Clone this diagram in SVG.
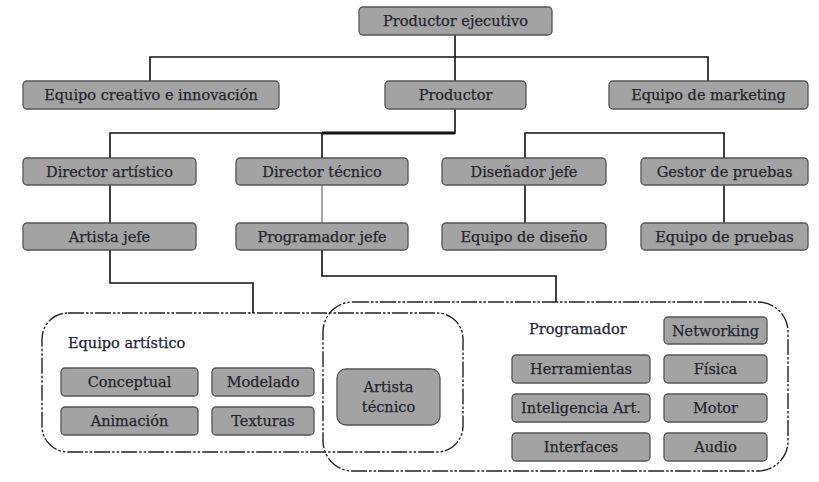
<svg xmlns="http://www.w3.org/2000/svg" width="819" height="482" viewBox="0 0 819 482">
<style>
.b{fill:#a3a3a3;stroke:#555;stroke-width:1.3}
.t{font-family:"DejaVu Serif","Liberation Serif",serif;font-size:14.5px;fill:#25252f;stroke:#25252f;stroke-width:0.25;text-anchor:middle}
.l{font-family:"DejaVu Serif","Liberation Serif",serif;font-size:14.5px;fill:#1f2235;stroke:#1f2235;stroke-width:0.25}
.c{fill:none;stroke:#111;stroke-width:1.6}
.d{fill:none;stroke:#222;stroke-width:1.4;stroke-dasharray:16 2 2.5 2 2.5 2}
</style>
<rect width="819" height="482" fill="#fff"/>
<g id="connectors">
<path class="c" d="M455 35V81M150 81V57H708V81"/>
<path class="c" d="M455 109V133H110V158M525 158V133H724V158"/>
<path fill="none" stroke="#111" stroke-width="3" d="M322 133H455"/>
<path class="c" d="M322 133V158"/>
<path fill="none" stroke="#777" stroke-width="1.3" d="M322 185V223"/>
<path class="c" d="M110 185V223M525 185V223M724 185V223"/>
<path class="c" d="M110 250V283H253V313"/>
<path class="c" d="M322 250V276H556V302"/>
</g>
<g id="equipo-artistico-group">
<rect class="d" x="42" y="313" width="421" height="139" rx="26"/>
<text class="l" x="68" y="348">Equipo artístico</text>
</g>
<g id="programador-group">
<rect class="d" x="323" y="302" width="465" height="169" rx="30"/>
<text class="l" x="529" y="334">Programador</text>
</g>
<g id="productor-ejecutivo"><rect class="b" x="359" y="7" width="193" height="28" rx="4"/><text class="t" x="455.5" y="26">Productor ejecutivo</text></g>
<g id="equipo-creativo"><rect class="b" x="23" y="81" width="256" height="28" rx="4"/><text class="t" x="151" y="100">Equipo creativo e innovación</text></g>
<g id="productor"><rect class="b" x="385" y="81" width="141" height="28" rx="4"/><text class="t" x="455.5" y="100">Productor</text></g>
<g id="equipo-marketing"><rect class="b" x="609" y="81" width="199" height="28" rx="4"/><text class="t" x="708.5" y="100">Equipo de marketing</text></g>
<g id="director-artistico"><rect class="b" x="23" y="158" width="173" height="27" rx="4"/><text class="t" x="109.5" y="177">Director artístico</text></g>
<g id="director-tecnico"><rect class="b" x="236" y="158" width="172" height="27" rx="4"/><text class="t" x="322" y="177">Director técnico</text></g>
<g id="disenador-jefe"><rect class="b" x="442" y="158" width="164" height="27" rx="4"/><text class="t" x="524" y="177">Diseñador jefe</text></g>
<g id="gestor-pruebas"><rect class="b" x="641" y="158" width="167" height="27" rx="4"/><text class="t" x="724.5" y="177">Gestor de pruebas</text></g>
<g id="artista-jefe"><rect class="b" x="23" y="223" width="173" height="27" rx="4"/><text class="t" x="109.5" y="242">Artista jefe</text></g>
<g id="programador-jefe"><rect class="b" x="236" y="223" width="172" height="27" rx="4"/><text class="t" x="322" y="242">Programador jefe</text></g>
<g id="equipo-diseno"><rect class="b" x="442" y="223" width="164" height="27" rx="4"/><text class="t" x="524" y="242">Equipo de diseño</text></g>
<g id="equipo-pruebas"><rect class="b" x="641" y="223" width="167" height="27" rx="4"/><text class="t" x="724.5" y="242">Equipo de pruebas</text></g>
<g id="conceptual"><rect class="b" x="61" y="368" width="137" height="28" rx="4"/><text class="t" x="129.5" y="387">Conceptual</text></g>
<g id="modelado"><rect class="b" x="212" y="368" width="102" height="28" rx="4"/><text class="t" x="263" y="387">Modelado</text></g>
<g id="animacion"><rect class="b" x="61" y="407" width="137" height="28" rx="4"/><text class="t" x="129.5" y="426">Animación</text></g>
<g id="texturas"><rect class="b" x="212" y="407" width="102" height="28" rx="4"/><text class="t" x="263" y="426">Texturas</text></g>
<g id="artista-tecnico"><rect class="b" x="337" y="369" width="103" height="56" rx="9"/><text class="t" x="388.5" y="392">Artista</text><text class="t" x="388.5" y="412">técnico</text></g>
<g id="networking"><rect class="b" x="664" y="317" width="103" height="27" rx="4"/><text class="t" x="715.5" y="336">Networking</text></g>
<g id="herramientas"><rect class="b" x="512" y="355" width="138" height="28" rx="4"/><text class="t" x="581" y="374">Herramientas</text></g>
<g id="fisica"><rect class="b" x="664" y="355" width="103" height="28" rx="4"/><text class="t" x="715.5" y="374">Física</text></g>
<g id="inteligencia-art"><rect class="b" x="512" y="394" width="138" height="28" rx="4"/><text class="t" x="581" y="413">Inteligencia Art.</text></g>
<g id="motor"><rect class="b" x="664" y="394" width="103" height="28" rx="4"/><text class="t" x="715.5" y="413">Motor</text></g>
<g id="interfaces"><rect class="b" x="512" y="433" width="138" height="28" rx="4"/><text class="t" x="581" y="452">Interfaces</text></g>
<g id="audio"><rect class="b" x="664" y="433" width="103" height="28" rx="4"/><text class="t" x="715.5" y="452">Audio</text></g>
</svg>
